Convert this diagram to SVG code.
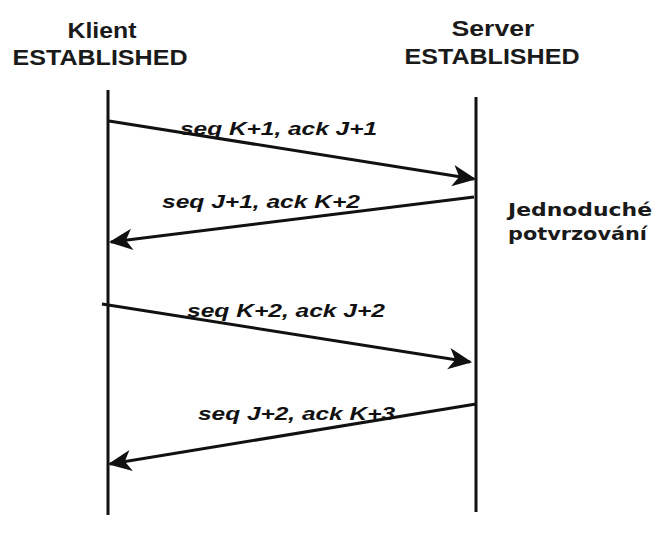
<svg xmlns="http://www.w3.org/2000/svg" width="654" height="545" viewBox="0 0 654 545">
<style>
.hdr{font-family:"Liberation Sans",Arial,sans-serif;font-weight:bold;font-size:22px;fill:#1a1a1a;text-anchor:middle}
.lbl{font-family:"Liberation Sans",Arial,sans-serif;font-weight:bold;font-style:italic;font-size:18px;fill:#111}
.note{font-family:"DejaVu Sans",sans-serif;font-weight:bold;font-size:17px;fill:#1a1a1a}
.life{stroke:#111;stroke-width:3;fill:none}
.msg{stroke:#111;stroke-width:3;fill:none;marker-end:url(#ah)}
</style>
<defs>
<marker id="ah" markerUnits="userSpaceOnUse" markerWidth="30" markerHeight="30" viewBox="-24 -12 28 24" refX="0" refY="0" orient="auto">
<path d="M2,0 L-20,-10 L-14,0 L-20,10 Z" fill="#111"/>
</marker>
</defs>
<rect width="654" height="545" fill="#fff"/>
<g id="klient">
<text class="hdr" x="102" y="38" textLength="69" lengthAdjust="spacingAndGlyphs">Klient</text>
<text class="hdr" x="100" y="65" textLength="175" lengthAdjust="spacingAndGlyphs">ESTABLISHED</text>
<line class="life" x1="108" y1="90" x2="108" y2="515"/>
</g>
<g id="server">
<text class="hdr" x="493" y="36" textLength="83" lengthAdjust="spacingAndGlyphs">Server</text>
<text class="hdr" x="492" y="64" textLength="175" lengthAdjust="spacingAndGlyphs">ESTABLISHED</text>
<line class="life" x1="476" y1="97" x2="476" y2="512"/>
</g>
<g id="note">
<text class="note" x="508" y="216" textLength="144" lengthAdjust="spacingAndGlyphs">Jednoduché</text>
<text class="note" x="508" y="240" textLength="139" lengthAdjust="spacingAndGlyphs">potvrzování</text>
</g>
<g id="connectors">
<line class="msg" x1="109" y1="121" x2="474" y2="179"/>
<line class="msg" x1="474" y1="197" x2="111" y2="242"/>
<line class="msg" x1="102" y1="304" x2="470" y2="362"/>
<line class="msg" x1="476" y1="404" x2="110" y2="464"/>
</g>
<g id="labels">
<text class="lbl" x="180" y="135" textLength="197" lengthAdjust="spacingAndGlyphs">seq K+1, ack J+1</text>
<text class="lbl" x="162" y="208" textLength="198" lengthAdjust="spacingAndGlyphs">seq J+1, ack K+2</text>
<text class="lbl" x="187" y="317" textLength="198" lengthAdjust="spacingAndGlyphs">seq K+2, ack J+2</text>
<text class="lbl" x="198" y="420" textLength="197" lengthAdjust="spacingAndGlyphs">seq J+2, ack K+3</text>
</g>
</svg>
